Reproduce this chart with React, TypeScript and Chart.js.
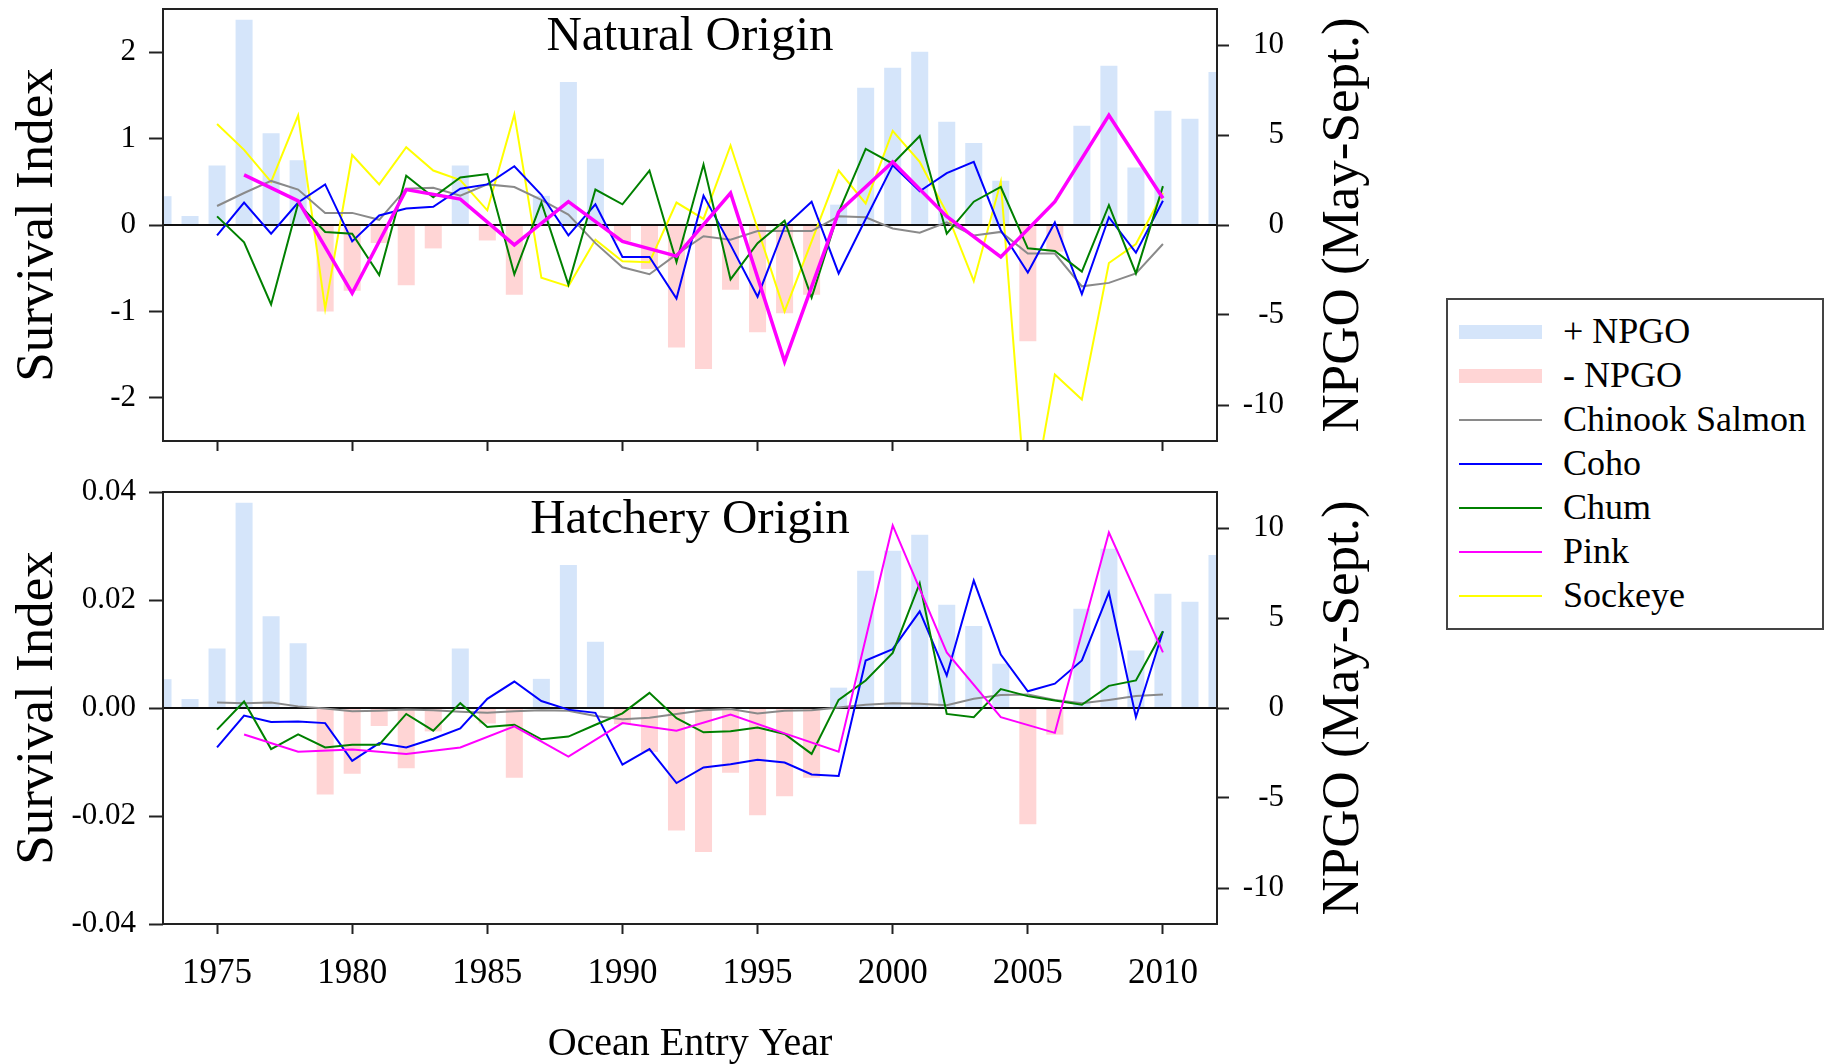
import React, { useEffect, useRef } from "react";
import { Chart, registerables } from "chart.js";

Chart.register(...registerables);

const FONT = '"Liberation Serif", "Times New Roman", Times, serif';

// ---------- DATA ----------
const npgoYears = [
  1973, 1974, 1975, 1976, 1977, 1978, 1979, 1980, 1981, 1982, 1983, 1984, 1985, 1986,
  1987, 1988, 1989, 1990, 1991, 1992, 1993, 1994, 1995, 1996, 1997, 1998, 1999, 2000,
  2001, 2002, 2003, 2004, 2005, 2006, 2007, 2008, 2009, 2010, 2011, 2012,
];
const npgoValues = [
  1.6, 0.5, 3.3, 11.4, 5.1, 3.6, -4.8, -3.65, -1.0, -3.35, -1.3, 3.3, -0.86, -3.88,
  1.62, 7.95, 3.68, -0.9, -2.44, -6.8, -8.0, -3.6, -5.96, -4.9, -3.87, 1.13, 7.63, 8.74,
  9.63, 5.74, 4.56, 2.46, -6.46, -1.48, 5.52, 8.85, 3.19, 6.35, 5.9, 8.5,
];

const speciesYears = [
  1975, 1976, 1977, 1978, 1979, 1980, 1981, 1982, 1983, 1984, 1985, 1986, 1987, 1988,
  1989, 1990, 1991, 1992, 1993, 1994, 1995, 1996, 1997, 1998, 1999, 2000, 2001, 2002,
  2003, 2004, 2005, 2006, 2007, 2008, 2009, 2010,
];

// Natural origin survival index
const natChinook = [
  0.22, 0.37, 0.51, 0.41, 0.14, 0.14, 0.06, 0.42, 0.43, 0.34, 0.47, 0.44, 0.29, 0.12,
  -0.21, -0.49, -0.57, -0.34, -0.13, -0.17, -0.07, -0.07, -0.07, 0.1, 0.09, -0.04, -0.09, 0.03,
  -0.12, -0.08, -0.33, -0.33, -0.71, -0.67, -0.56, -0.22,
];
const natCoho = [
  -0.12, 0.26, -0.1, 0.26, 0.47, -0.19, 0.11, 0.19, 0.21, 0.42, 0.47, 0.68, 0.35, -0.12,
  0.24, -0.37, -0.37, -0.85, 0.34, -0.23, -0.83, -0.02, 0.27, -0.56, 0.07, 0.69, 0.39, 0.6,
  0.73, -0.06, -0.55, 0.03, -0.8, 0.09, -0.32, 0.28,
];
const natChum = [
  0.1, -0.2, -0.92, 0.25, -0.08, -0.1, -0.58, 0.57, 0.32, 0.55, 0.59, -0.57, 0.26, -0.69,
  0.41, 0.24, 0.63, -0.43, 0.7, -0.63, -0.21, 0.05, -0.84, 0.15, 0.88, 0.71, 1.03, -0.1,
  0.27, 0.44, -0.27, -0.3, -0.54, 0.23, -0.56, 0.45,
];
const natPink = [
  null, 0.58, null, 0.28, null, -0.79, null, 0.41, null, 0.3, null, -0.23, null, 0.27,
  null, -0.19, null, -0.36, null, 0.37, null, -1.58, null, 0.15, null, 0.73, null, 0.1,
  null, -0.37, null, 0.27, null, 1.27, null, 0.31,
];
const natSockeye = [
  1.17, 0.87, 0.5, 1.27, -0.97, 0.81, 0.47, 0.9, 0.63, 0.52, 0.17, 1.28, -0.61, -0.71,
  -0.17, -0.42, -0.43, 0.26, 0.07, 0.92, -0.04, -1.0, -0.19, 0.63, 0.25, 1.09, 0.73, 0.14,
  -0.65, 0.5, -3.5, -1.73, -2.02, -0.44, -0.22, 0.37,
];

// Hatchery origin survival index
const hatChinook = [
  0.001, 0.0009, 0.001, 0.0003, -0.0001, -0.0006, -0.0005, -0.0003, -0.0004, -0.0007, -0.0009, -0.0006, -0.0004, -0.0005,
  -0.0015, -0.0021, -0.0018, -0.0011, -0.0004, -0.0002, -0.001, -0.0005, -0.0004, 0.0001, 0.0006, 0.0009, 0.0008, 0.0005,
  0.0017, 0.0024, 0.0025, 0.0015, 0.0009, 0.0015, 0.0022, 0.0025,
];
const hatCoho = [
  -0.0073, -0.0014, -0.0026, -0.0025, -0.0028, -0.0098, -0.0065, -0.0073, -0.0057, -0.0038, 0.0017, 0.0049, 0.0013, -0.0003,
  -0.0009, -0.0105, -0.0076, -0.0139, -0.011, -0.0104, -0.0096, -0.0101, -0.0123, -0.0126, 0.0088, 0.0109, 0.0179, 0.006,
  0.0236, 0.0099, 0.0031, 0.0045, 0.0088, 0.0214, -0.0017, 0.0142,
];
const hatChum = [
  -0.004, 0.0012, -0.0076, -0.0049, -0.0073, -0.0068, -0.0068, -0.0011, -0.0042, 0.0009, -0.0035, -0.0031, -0.0058, -0.0053,
  -0.0031, -0.001, 0.0028, -0.0019, -0.0045, -0.0043, -0.0036, -0.0048, -0.0085, 0.0015, 0.0051, 0.0102, 0.0231, -0.0011,
  -0.0017, 0.0035, 0.0022, 0.0014, 0.0006, 0.0041, 0.0051, 0.0142,
];
const hatPink = [
  null, -0.0049, null, -0.0081, null, -0.0077, null, -0.0085, null, -0.0073, null, -0.0034, null, -0.009,
  null, -0.0028, null, -0.0042, null, -0.0012, null, -0.0047, null, -0.0081, null, 0.0338, null, 0.0103,
  null, -0.0017, null, -0.0046, null, 0.0325, null, 0.0103,
];

// Tick labels
const xTickYears = [1975, 1980, 1985, 1990, 1995, 2000, 2005, 2010];
const natTicks = [-2, -1, 0, 1, 2];
const hatTicks = [-0.04, -0.02, 0, 0.02, 0.04];
const npgoTicks = [-10, -5, 0, 5, 10];

// Legend
const legendLabels = ["+ NPGO", "- NPGO", "Chinook Salmon", "Coho", "Chum", "Pink", "Sockeye"];

// ---------- STYLE ----------
const C_POS = "rgb(213,229,250)";
const C_NEG = "rgb(255,213,213)";
const C_CHINOOK = "#8a8a8a";
const C_COHO = "#0000ff";
const C_CHUM = "#008000";
const C_PINK = "#ff00ff";
const C_SOCKEYE = "#ffff00";
const legendColors = [C_POS, C_NEG, C_CHINOOK, C_COHO, C_CHUM, C_PINK, C_SOCKEYE];

const CANVAS_W = 1440;
const PLOT_LEFT = 163;
const PLOT_RIGHT = 1217;
const RIGHT_LABEL_X = 1284;

const pts = (xs: number[], ys: (number | null)[]) => xs.map((x, i) => ({ x, y: ys[i] }));

const panelPlugin = {
  id: "panel",
  afterDatasetDraw(chart: any, args: any) {
    const ds = chart.data.datasets[args.index];
    if (ds && ds.order === 9) {
      const { ctx, chartArea: a } = chart;
      const y = chart.scales.y.getPixelForValue(0);
      ctx.save();
      ctx.strokeStyle = "#111";
      ctx.lineWidth = 2;
      ctx.beginPath();
      ctx.moveTo(a.left, y);
      ctx.lineTo(a.right, y);
      ctx.stroke();
      ctx.restore();
    }
  },
  afterDraw(chart: any, _args: any, opts: any) {
    const { ctx, chartArea: a } = chart;
    ctx.save();
    ctx.strokeStyle = "#222";
    ctx.lineWidth = 2;
    ctx.strokeRect(a.left, a.top, a.right - a.left, a.bottom - a.top);
    ctx.fillStyle = "#000";
    // right axis tick labels, right-aligned
    ctx.font = `31px ${FONT}`;
    ctx.textAlign = "right";
    ctx.textBaseline = "middle";
    const y1 = chart.scales.y1;
    npgoTicks.forEach((v) => {
      ctx.fillText(String(v), RIGHT_LABEL_X, y1.getPixelForValue(v));
    });
    ctx.textAlign = "center";
    ctx.textBaseline = "alphabetic";
    ctx.font = `49px ${FONT}`;
    ctx.fillText(opts.title, (a.left + a.right) / 2, opts.titleY);
    const cy = (a.top + a.bottom) / 2;
    ctx.font = `53px ${FONT}`;
    ctx.save();
    ctx.translate(52, cy);
    ctx.rotate(-Math.PI / 2);
    ctx.fillText("Survival Index", 0, 0);
    ctx.restore();
    ctx.save();
    ctx.translate(1358, cy);
    ctx.rotate(-Math.PI / 2);
    ctx.fillText("NPGO (May-Sept.)", 0, 0);
    ctx.restore();
    if (opts.xTitle) {
      ctx.font = `40px ${FONT}`;
      ctx.fillText(opts.xTitle, (a.left + a.right) / 2, opts.xTitleY);
    }
    ctx.restore();
  },
};

type PanelSpec = {
  title: string;
  titleY: number;
  height: number;
  padTop: number;
  plotBottom: number;
  yMin: number;
  yMax: number;
  yTicks: number[];
  yFmt: (v: number) => string;
  lines: { label: string; data: (number | null)[]; color: string; width: number; order: number; span?: boolean }[];
  showXLabels: boolean;
  xTitle?: string;
  xTitleY?: number;
};

function zeroPad(s: any) {
  s.paddingTop = 0;
  s.paddingBottom = 0;
  s.paddingLeft = 0;
  s.paddingRight = 0;
}

function buildConfig(p: PanelSpec): any {
  const posBars = pts(npgoYears, npgoValues.map((v) => (v > 0 ? v : null)));
  const negBars = pts(npgoYears, npgoValues.map((v) => (v < 0 ? v : null)));
  const datasets: any[] = [
    {
      type: "bar",
      label: "+ NPGO",
      data: posBars,
      backgroundColor: C_POS,
      borderWidth: 0,
      yAxisID: "y1",
      grouped: false,
      barPercentage: 0.63,
      categoryPercentage: 1,
      clip: 0,
      order: 10,
    },
    {
      type: "bar",
      label: "- NPGO",
      data: negBars,
      backgroundColor: C_NEG,
      borderWidth: 0,
      yAxisID: "y1",
      grouped: false,
      barPercentage: 0.63,
      categoryPercentage: 1,
      clip: 0,
      order: 9,
    },
    ...p.lines.map((l) => ({
      type: "line",
      label: l.label,
      data: pts(speciesYears, l.data),
      borderColor: l.color,
      backgroundColor: l.color,
      borderWidth: l.width,
      pointRadius: 0,
      tension: 0,
      spanGaps: !!l.span,
      yAxisID: "y",
      clip: 0,
      order: l.order,
    })),
  ];
  const tickGrid = (len: number) => ({
    display: true,
    drawOnChartArea: false,
    drawTicks: true,
    tickLength: len,
    tickWidth: 2,
    tickColor: "#222",
    color: "#222",
  });
  return {
    type: "line",
    data: { datasets },
    options: {
      responsive: false,
      animation: false,
      events: [],
      layout: { padding: { top: p.padTop, left: 0, right: 0, bottom: 0 }, autoPadding: false },
      plugins: {
        legend: { display: false },
        tooltip: { enabled: false },
        panel: { title: p.title, titleY: p.titleY, xTitle: p.xTitle, xTitleY: p.xTitleY },
      },
      scales: {
        x: {
          type: "linear",
          position: "bottom",
          min: 1973,
          max: 2012,
          bounds: "data",
          offset: false,
          grid: { ...tickGrid(10), offset: false },
          border: { display: false },
          ticks: {
            display: p.showXLabels,
            autoSkip: false,
            maxRotation: 0,
            padding: 19,
            color: "#000",
            font: { family: FONT, size: 35 },
            callback: (v: number) => String(v),
          },
          afterBuildTicks: (s: any) => {
            s.ticks = xTickYears.map((v) => ({ value: v }));
          },
          afterFit: (s: any) => {
            s.height = p.height - p.plotBottom;
            zeroPad(s);
          },
        },
        y: {
          type: "linear",
          position: "left",
          min: p.yMin,
          max: p.yMax,
          bounds: "data",
          grid: tickGrid(14),
          border: { display: false },
          ticks: {
            autoSkip: false,
            padding: 13,
            color: "#000",
            font: { family: FONT, size: 31 },
            callback: (v: number) => p.yFmt(v),
          },
          afterBuildTicks: (s: any) => {
            s.ticks = p.yTicks.map((v) => ({ value: v }));
          },
          afterFit: (s: any) => {
            s.width = PLOT_LEFT;
            zeroPad(s);
          },
        },
        y1: {
          type: "linear",
          position: "right",
          min: -12,
          max: 12,
          bounds: "data",
          grid: tickGrid(12),
          border: { display: false },
          ticks: {
            display: false,
            autoSkip: false,
          },
          afterBuildTicks: (s: any) => {
            s.ticks = npgoTicks.map((v) => ({ value: v }));
          },
          afterFit: (s: any) => {
            s.width = CANVAS_W - PLOT_RIGHT;
            zeroPad(s);
          },
        },
      },
    },
    plugins: [panelPlugin],
  };
}

const naturalSpec: PanelSpec = {
  title: "Natural Origin",
  titleY: 50,
  height: 470,
  padTop: 9,
  plotBottom: 441,
  yMin: -2.5,
  yMax: 2.5,
  yTicks: natTicks,
  yFmt: (v) => String(v),
  lines: [
    { label: "Chinook Salmon", data: natChinook, color: C_CHINOOK, width: 2, order: 4 },
    { label: "Coho", data: natCoho, color: C_COHO, width: 2, order: 3 },
    { label: "Chum", data: natChum, color: C_CHUM, width: 2, order: 2 },
    { label: "Pink", data: natPink, color: C_PINK, width: 3.5, order: 1, span: true },
    { label: "Sockeye", data: natSockeye, color: C_SOCKEYE, width: 2, order: 5 },
  ],
  showXLabels: false,
};

const hatcherySpec: PanelSpec = {
  title: "Hatchery Origin",
  titleY: 63,
  height: 594,
  padTop: 22,
  plotBottom: 454,
  yMin: -0.04,
  yMax: 0.04,
  yTicks: hatTicks,
  yFmt: (v) => v.toFixed(2),
  lines: [
    { label: "Chinook Salmon", data: hatChinook, color: C_CHINOOK, width: 2, order: 4 },
    { label: "Coho", data: hatCoho, color: C_COHO, width: 2, order: 3 },
    { label: "Chum", data: hatChum, color: C_CHUM, width: 2, order: 2 },
    { label: "Pink", data: hatPink, color: C_PINK, width: 2, order: 1, span: true },
  ],
  showXLabels: true,
  xTitle: "Ocean Entry Year",
  xTitleY: 585,
};

function Panel({ spec, top }: { spec: PanelSpec; top: number }) {
  const ref = useRef<HTMLCanvasElement | null>(null);
  useEffect(() => {
    if (!ref.current) return;
    const chart = new Chart(ref.current, buildConfig(spec));
    return () => chart.destroy();
  }, [spec]);
  return (
    <canvas
      ref={ref}
      width={CANVAS_W}
      height={spec.height}
      style={{ position: "absolute", left: 0, top, width: CANVAS_W, height: spec.height }}
    />
  );
}

function Legend() {
  const rowTop0 = 309;
  const step = 44;
  return (
    <>
      <div
        style={{
          position: "absolute",
          left: 1446,
          top: 298,
          width: 378,
          height: 332,
          boxSizing: "border-box",
          border: "2px solid #444",
          background: "#fff",
        }}
      />
      {legendLabels.map((lab, i) => {
        const baseline = 343 + step * i;
        const isBar = i < 2;
        const sh = isBar ? 14 : 2;
        const cy = baseline - 11;
        return (
          <React.Fragment key={lab}>
            <div
              style={{
                position: "absolute",
                left: 1459,
                top: cy - sh / 2,
                width: 83,
                height: sh,
                background: legendColors[i],
              }}
            />
            <div
              style={{
                position: "absolute",
                left: 1563,
                top: rowTop0 + step * i,
                fontFamily: FONT,
                fontSize: 36,
                lineHeight: "44px",
                color: "#000",
                whiteSpace: "nowrap",
              }}
            >
              {lab}
            </div>
          </React.Fragment>
        );
      })}
    </>
  );
}

export default function App() {
  useEffect(() => {
    document.body.style.margin = "0";
  }, []);
  return (
    <div
      style={{
        position: "absolute",
        left: 0,
        top: 0,
        width: 1829,
        height: 1064,
        background: "#fff",
        overflow: "hidden",
      }}
    >
      <Panel spec={naturalSpec} top={0} />
      <Panel spec={hatcherySpec} top={470} />
      <Legend />
    </div>
  );
}
